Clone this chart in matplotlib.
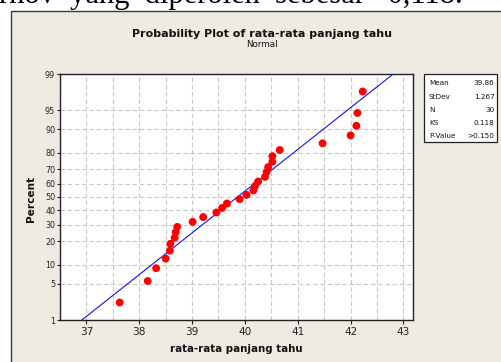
import numpy as np
import matplotlib
matplotlib.use("Agg")
import matplotlib.pyplot as plt
from matplotlib.patches import Rectangle
from statistics import NormalDist

# === Data ===
values = [37.63, 38.16, 38.32, 38.50, 38.58, 38.59, 38.67, 38.69, 38.72, 39.01,
          39.21, 39.46, 39.57, 39.66, 39.90, 40.03, 40.16, 40.19, 40.25, 40.38,
          40.41, 40.44, 40.52, 40.52, 40.66, 41.47, 42.00, 42.11, 42.13, 42.23]
percents = [2.3, 5.6, 8.9, 12.2, 15.5, 18.8, 22.0, 25.3, 28.6, 31.9,
            35.2, 38.5, 41.8, 45.1, 48.4, 51.6, 54.9, 58.2, 61.5, 64.8,
            68.1, 71.4, 74.7, 78.0, 81.3, 84.5, 87.8, 91.1, 94.4, 97.7]
fit_mean = 39.86
fit_stdev = 1.267
y_ticks = [1, 5, 10, 20, 30, 40, 50, 60, 70, 80, 90, 95, 99]
x_ticks = [37, 38, 39, 40, 41, 42, 43]
stat_names = ["Mean", "StDev", "N", "KS", "P-Value"]
stat_values = ["39.86", "1.267", "30", "0.118", ">0.150"]

W, H = 502, 362
beige = "#eeebe2"
font = "DejaVu Sans"

nd = NormalDist()


def fwd(p):
    p = np.clip(np.asarray(p, float), 1e-6, 100 - 1e-6)
    return np.vectorize(lambda v: nd.inv_cdf(v / 100), otypes=[float])(p)


def inv(z):
    z = np.asarray(z, float)
    return np.vectorize(lambda v: nd.cdf(v) * 100, otypes=[float])(z)


def fx(x):
    return x / W


def fy(y):
    return 1 - y / H


fig = plt.figure(figsize=(W / 100, H / 100), dpi=100)
fig.patch.set_facecolor("white")

# document text cut off above the pasted graph (justified line)
fig.text(fx(463), fy(3.2), "Smirnov  yang  diperoleh  sebesar   0,118.",
         fontsize=22, family="Liberation Serif", va="baseline", ha="right", zorder=-2)

# Minitab graph window
fig.patches.append(Rectangle((fx(11), -0.1), 1.2, fy(11) + 0.1, transform=fig.transFigure,
                             facecolor=beige, edgecolor="#3a3a3a", linewidth=1.0, zorder=-1))

ax = fig.add_axes([fx(60), fy(320), fx(412.7) - fx(60), fy(74) - fy(320)])
ax.set_zorder(1)
ax.set_facecolor("white")
ax.set_yscale("function", functions=(fwd, inv))
ax.set_ylim(1, 99)
ax.set_xlim(36.563, 43.176)

ax.set_yticks(y_ticks)
ax.set_yticklabels([str(t) for t in y_ticks], fontsize=5.8, family=font)
ax.set_xticks(x_ticks)
ax.set_xticklabels([str(t) for t in x_ticks], fontsize=7.6, family=font)
ax.set_xticks(np.arange(36.5, 43.5, 0.5), minor=True)
ax.yaxis.set_minor_locator(matplotlib.ticker.NullLocator())
ax.tick_params(axis="y", length=2.5, width=0.8, pad=1, colors="#222222")
ax.tick_params(axis="x", which="major", length=3, width=0.8, pad=2, colors="#222222")
ax.tick_params(axis="x", which="minor", length=0)

ax.grid(True, axis="y", color="#c8c8c8", linestyle=(0, (4, 2.5)), linewidth=0.8)
ax.grid(True, axis="x", which="both", color="#c8c8c8", linestyle=(0, (4, 2.5)), linewidth=0.8)
ax.set_axisbelow(True)
for s in ax.spines.values():
    s.set_color("#222222")
    s.set_linewidth(1.0)

# fitted normal line
line_p = [1, 99]
line_x = [fit_mean + fit_stdev * nd.inv_cdf(p / 100) for p in line_p]
ax.plot(line_x, line_p, color="#1010ff", linewidth=0.8, zorder=3)

# data points
ax.scatter(values, percents, s=32, color="#ff0000", edgecolors="none", zorder=4, clip_on=False)

# titles and labels
fig.text(fx(262), fy(34), "Probability Plot of rata-rata panjang tahu", fontsize=8.0,
         fontweight="bold", family=font, ha="center", va="center", color="#111111")
fig.text(fx(262), fy(44.5), "Normal", fontsize=6.3, family=font, ha="center", va="center", color="#111111")
fig.text(fx(31), fy(198.5), "Percent", fontsize=7.6, fontweight="bold", family=font,
         ha="center", va="center", rotation=90, color="#111111")
fig.text(fx(236), fy(349), "rata-rata panjang tahu", fontsize=7.4, fontweight="bold", family=font,
         ha="center", va="center", color="#111111")

# stats box
fig.patches.append(Rectangle((fx(424), fy(142)), fx(497) - fx(424), fy(74) - fy(142),
                             transform=fig.transFigure, facecolor="white",
                             edgecolor="#222222", linewidth=0.9, zorder=2))
row_y = [83.3, 96.7, 110, 122.7, 136]
for name, val, yy in zip(stat_names, stat_values, row_y):
    fig.text(fx(429), fy(yy), name, fontsize=5.2, family=font, ha="left", va="center",
             color="#111111", zorder=3)
    fig.text(fx(494.5), fy(yy), val, fontsize=5.2, family=font, ha="right", va="center",
             color="#111111", zorder=3)

fig.savefig("out.png", dpi=100)
